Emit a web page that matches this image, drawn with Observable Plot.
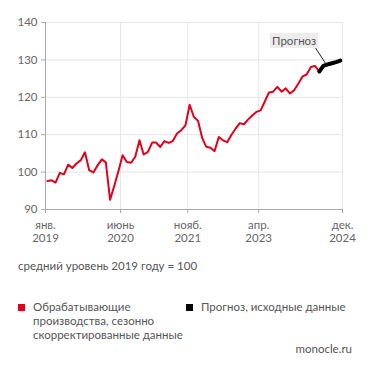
<!DOCTYPE html>
<html><head><meta charset="utf-8">
<script src="https://cdn.jsdelivr.net/npm/d3@7"></script>
<script src="https://cdn.jsdelivr.net/npm/@observablehq/plot@0.6"></script>
<style>
body{margin:0;background:#fff;font-family:Lato,"Open Sans",sans-serif;}
#wrap{width:371px;height:371px;position:relative;overflow:hidden;}
.note{position:absolute;left:18px;top:259px;font-size:11.5px;color:#555;}
.legend{position:absolute;top:300px;left:18px;width:340px;font-size:11.5px;color:#555;line-height:14px;}
.item{position:absolute;top:0;display:flex;}
.sw{width:7px;height:7px;margin-top:4px;margin-right:8px;flex:none;}
.src{position:absolute;right:19px;top:342px;font-size:11.5px;color:#555;}
</style></head>
<body><div id="wrap"></div>
<script>
const startMonth = "2019-01";
const actualValues = [97.6,97.8,97.2,99.8,99.4,102.0,101.1,102.3,103.2,105.3,100.5,99.9,
  101.8,103.4,102.6,92.6,96.3,100.3,104.5,102.7,102.5,104.1,108.5,104.7,
  105.4,107.9,107.9,106.7,108.3,107.8,108.3,110.3,111.2,112.5,118.0,114.8,
  113.7,109.0,106.8,106.5,105.6,109.4,108.5,108.0,110.0,111.6,113.1,112.8,
  114.1,115.2,116.1,116.5,118.8,121.3,121.5,122.8,121.5,122.4,121.0,121.9,
  123.7,125.6,126.1,128.1,128.4,126.9];
const forecastStart = "2024-06";
const forecastValues = [126.9,128.4,128.8,129.1,129.4,129.8];
const tickDates = ["2019-01-01","2020-06-30","2021-11-01","2023-04-01","2024-12-01"];
const tickLabels = ["янв.\n2019","июнь\n2020","нояб.\n2021","апр.\n2023","дек.\n2024"];
const yTicks = [90,100,110,120,130,140];
const noteLabel = "Прогноз";
const noteText = {date:"2023-12-15", value:135.0};
const noteLine = [{date:"2024-05-20", value:133.1},{date:"2024-08-01", value:129.0}];
const legendLabels = ["Обрабатывающие производства, сезонно скорректированные данные","Прогноз, исходные данные"];
const colors = ["#e2001a","#000000"];

const mid = (ym, k) => { const [y,m] = ym.split("-").map(Number); return new Date(y, m-1+k, 15); };
const actual = actualValues.map((v,i)=>({date: mid(startMonth,i), value:v}));
const forecast = forecastValues.map((v,i)=>({date: mid(forecastStart,i), value:v}));
const ticks = tickDates.map(d=>new Date(d+"T00:00"));
const fmt = new Map(ticks.map((t,i)=>[+t, tickLabels[i]]));
const pd = s => new Date(s+"T00:00");

const chart = Plot.plot({
  width:371, height:250,
  marginLeft:45, marginRight:29, marginTop:22, marginBottom:41,
  style:{fontFamily:"Lato, 'Open Sans', sans-serif", fontSize:"11.5px", color:"#666"},
  x:{type:"time", domain:[pd("2019-01-01"), pd("2024-12-01")]},
  y:{domain:[90,140]},
  marks:[
    Plot.gridY(yTicks,{stroke:"#e6e6e6", strokeOpacity:1}),
    Plot.gridX(ticks,{stroke:"#e6e6e6", strokeOpacity:1}),
    Plot.axisY(yTicks,{tickSize:4, tickPadding:4, stroke:"#aaa", fill:"#666", label:null}),
    Plot.axisX(ticks,{tickSize:4, tickPadding:6, stroke:"#aaa", fill:"#666", label:null, tickFormat:d=>fmt.get(+d), lineHeight:1.15}),
    Plot.ruleX([pd("2019-01-01")],{stroke:"#aaa"}),
    Plot.ruleY([90],{stroke:"#aaa"}),
    Plot.line(actual,{x:"date", y:"value", stroke:colors[0], strokeWidth:2}),
    Plot.line(forecast,{x:"date", y:"value", stroke:colors[1], strokeWidth:4, strokeLinecap:"round", strokeLinejoin:"round"}),
    Plot.line(noteLine,{x:d=>pd(d.date), y:"value", stroke:"#222", strokeWidth:1}),
    Plot.text([noteText],{x:d=>pd(d.date), y:"value", text:()=>noteLabel, fill:"#555", fontSize:11.5, className:"notelabel"})
  ]
});
const wrap = document.getElementById("wrap");
wrap.appendChild(chart);
// background box behind the note label
chart.querySelectorAll(".notelabel text").forEach(t=>{
  const b = t.getBBox();
  const r = document.createElementNS("http://www.w3.org/2000/svg","rect");
  r.setAttribute("x", b.x-2); r.setAttribute("y", b.y-1);
  r.setAttribute("width", b.width+4); r.setAttribute("height", b.height+2);
  r.setAttribute("fill","#ececec");
  const tr = t.getAttribute("transform"); if (tr) r.setAttribute("transform", tr);
  t.parentNode.insertBefore(r, t);
});
const note = document.createElement("div"); note.className="note";
note.textContent = "средний уровень 2019 году = 100"; wrap.appendChild(note);
const leg = document.createElement("div"); leg.className="legend";
legendLabels.forEach((l,i)=>{
  const it = document.createElement("div"); it.className="item";
  it.style.left = i===0 ? "0px" : "168px";
  it.style.width = i===0 ? "166px" : "175px";
  const sw = document.createElement("div"); sw.className="sw"; sw.style.background=colors[i];
  const tx = document.createElement("div"); tx.textContent=l;
  it.appendChild(sw); it.appendChild(tx); leg.appendChild(it);
});
wrap.appendChild(leg);
const src = document.createElement("div"); src.className="src"; src.textContent="monocle.ru"; wrap.appendChild(src);
</script></body></html>
